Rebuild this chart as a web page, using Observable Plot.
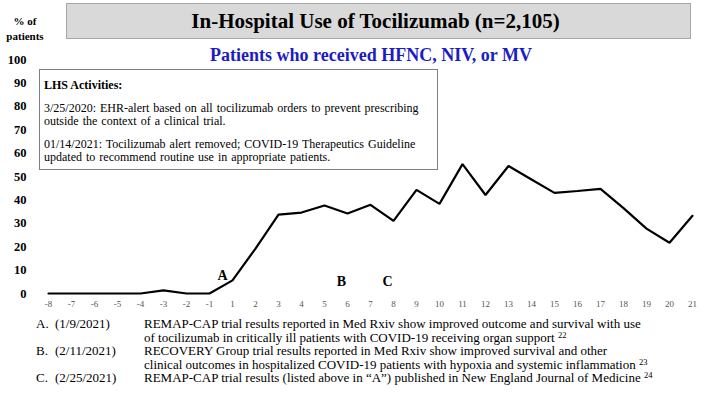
<!DOCTYPE html>
<html>
<head>
<meta charset="utf-8">
<script src="https://cdn.jsdelivr.net/npm/d3@7"></script>
<script src="https://cdn.jsdelivr.net/npm/@observablehq/plot@0.6"></script>
<style>
  html, body { margin: 0; padding: 0; background: #fff; }
  #wrap { position: relative; width: 709px; height: 400px; overflow: hidden;
          font-family: "Liberation Serif", "Times New Roman", serif; color: #000; }
  #plot { position: absolute; left: 0; top: 0; }
  .abs { position: absolute; white-space: nowrap; }
  #ylab { left: 0; top: 14px; width: 50px; text-align: center; font-weight: bold; font-size: 11px; line-height: 15px; }
  #titlebox { left: 66px; top: 3px; width: 625px; height: 36px; box-sizing: border-box;
              background: #d9d9d9; border: 1px solid #a6a6a6; text-align: center;
              font-weight: bold; font-size: 21px; line-height: 34px; padding-right: 6px; }
  #subtitle { left: 0; width: 742px; top: 45px; text-align: center; font-weight: bold;
              font-size: 18px; line-height: 20px; color: #1c1cc4; }
  #lhs { left: 39px; top: 69px; width: 399px; height: 101px; box-sizing: border-box;
         background: #fff; border: 1px solid #7f7f7f; padding: 9px 0 0 4px;
         font-size: 12px; line-height: 13.5px; word-spacing: 1px; white-space: nowrap; }
  #lhs .h { font-weight: bold; word-spacing: 0; }
  #lhs .p { margin-top: 9px; }
  .note { font-size: 13px; line-height: 14px; }
  .note sup { font-size: 8.5px; vertical-align: 4px; line-height: 0; }
</style>
</head>
<body>
<div id="wrap">
  <div id="plot"></div>
  <div id="ylab" class="abs">% of<br>patients</div>
  <div id="titlebox" class="abs"></div>
  <div id="subtitle" class="abs"></div>
  <div id="lhs" class="abs"></div>
  <div id="notes"></div>
</div>
<script>
// ---------- data ----------
const weeks = ["-8","-7","-6","-5","-4","-3","-2","-1","1","2","3","4","5","6","7","8","9","10","11","12","13","14","15","16","17","18","19","20","21"];
const pctValues = [0,0,0,0,0,1.3,0,0,5.6,19.2,33.7,34.6,37.6,34.2,37.9,31,44.3,38.3,55.3,42.1,54.5,48.7,43,43.8,44.7,36.5,27.7,21.7,33.2];
const yTicks = [0,10,20,30,40,50,60,70,80,90,100];

const eventLabels = ["A","B","C"];
const eventWeeks = ["1","6","8"];
const eventHeights = [7.5,5,5];

const titleText = "In-Hospital Use of Tocilizumab (n=2,105)";
const subtitleText = "Patients who received HFNC, NIV, or MV";
const lhsHeading = "LHS Activities:";
const lhsItems = [
  ["3/25/2020: EHR-alert based on all tocilizumab orders to prevent prescribing",
   "outside the context of a clinical trial."],
  ["01/14/2021: Tocilizumab alert removed; COVID-19 Therapeutics Guideline",
   "updated to recommend routine use in appropriate patients."]
];
const noteTags = ["A.","B.","C."];
const noteDates = ["(1/9/2021)","(2/11/2021)","(2/25/2021)"];
const noteLines = [
  ["REMAP-CAP trial results reported in Med Rxiv show improved outcome and survival with use",
   "of tocilizumab in critically ill patients with COVID-19 receiving organ support"],
  ["RECOVERY Group trial results reported in Med Rxiv show improved survival and other",
   "clinical outcomes in hospitalized COVID-19 patients with hypoxia and systemic inflammation"],
  ["REMAP-CAP trial results (listed above in \u201cA\u201d) published in New England Journal of Medicine"]
];
const noteRefs = ["22","23","24"];

// ---------- build tables ----------
const series = weeks.map((w, i) => ({week: w, pct: pctValues[i]}));
const events = eventLabels.map((l, i) => ({label: l, week: eventWeeks[i], y: eventHeights[i]}));

// ---------- plot ----------
const chart = Plot.plot({
  width: 709,
  height: 318,
  marginTop: 59,
  marginBottom: 25,
  marginLeft: 34,
  marginRight: 4,
  style: {fontFamily: "'Liberation Serif','Times New Roman',serif", background: "transparent", overflow: "visible"},
  x: {type: "point", domain: weeks, padding: 0.5, label: null},
  y: {domain: [0, 100], label: null},
  marks: [
    Plot.ruleY([0], {stroke: "#d4d4d4", strokeWidth: 1.2, x1: weeks[0], x2: weeks[weeks.length-1], insetLeft: -11, insetRight: -11}),
    Plot.axisX({tickSize: 0, tickPadding: 7, fontSize: 9, fill: "#555", label: null}),
    Plot.axisY({ticks: yTicks, tickSize: 0, tickPadding: 8, fontSize: 12.5, fontWeight: "bold", label: null}),
    Plot.line(series, {x: "week", y: "pct", stroke: "#000", strokeWidth: 2.2, strokeLinejoin: "miter"}),
    Plot.text(events.filter(d => d.label === "A"), {x: "week", y: "y", text: "label", dx: -10, fontSize: 14, fontWeight: "bold"}),
    Plot.text(events.filter(d => d.label !== "A"), {x: "week", y: "y", text: "label", dx: -6, fontSize: 14, fontWeight: "bold"})
  ]
});
document.getElementById("plot").appendChild(chart);

// ---------- text overlays ----------
document.getElementById("titlebox").textContent = titleText;
document.getElementById("subtitle").textContent = subtitleText;
const lhs = document.getElementById("lhs");
const h = document.createElement("div"); h.className = "h"; h.textContent = lhsHeading; lhs.appendChild(h);
lhsItems.forEach(lines => {
  const p = document.createElement("div"); p.className = "p";
  lines.forEach(t => { const l = document.createElement("div"); l.textContent = t; p.appendChild(l); });
  lhs.appendChild(p);
});

const notes = document.getElementById("notes");
const lineCenters = [[323.5, 337.5], [351, 364.5], [378]];
noteTags.forEach((tag, i) => {
  const top = lineCenters[i][0] - 7;
  const t = document.createElement("div"); t.className = "abs note"; t.style.left = "36px"; t.style.top = top + "px"; t.textContent = tag; notes.appendChild(t);
  const d = document.createElement("div"); d.className = "abs note"; d.style.left = "55px"; d.style.top = top + "px"; d.textContent = noteDates[i]; notes.appendChild(d);
  noteLines[i].forEach((ln, j) => {
    const l = document.createElement("div"); l.className = "abs note"; l.style.left = "144px";
    l.style.top = (lineCenters[i][j] - 7) + "px";
    l.textContent = ln;
    if (j === noteLines[i].length - 1) { const s = document.createElement("sup"); s.textContent = noteRefs[i]; l.appendChild(document.createTextNode(" ")); l.appendChild(s); }
    notes.appendChild(l);
  });
});
</script>
</body>
</html>
